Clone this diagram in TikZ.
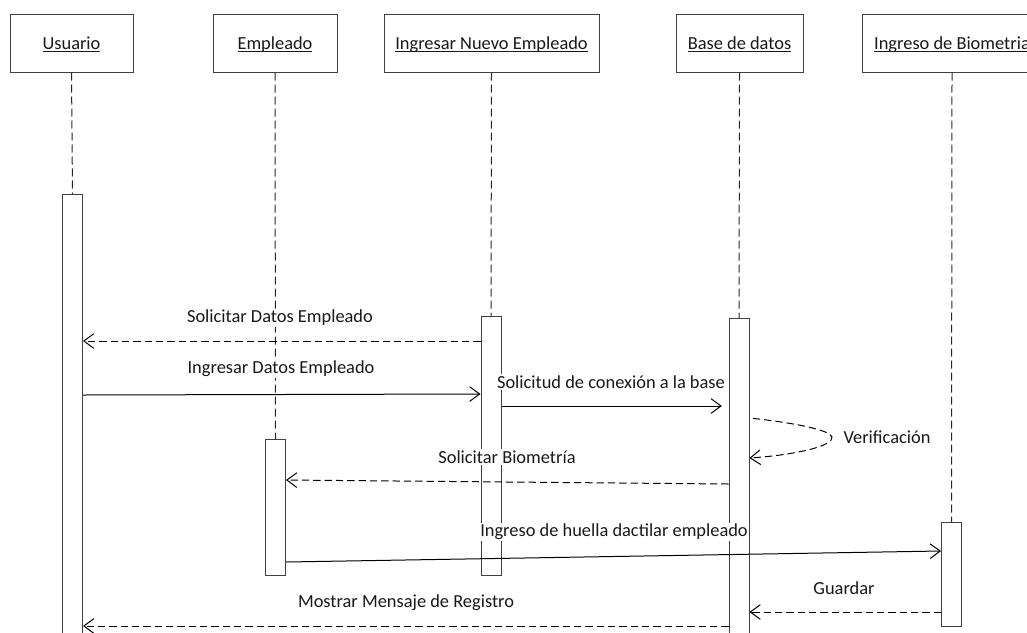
\documentclass[tikz,border=0pt]{standalone}
\usepackage{fontspec}
\setmainfont{Carlito}
\usetikzlibrary{arrows.meta}
% underline set just below the baseline, crossing the descenders
\newcommand{\headname}[1]{\underline{\smash{#1}}}
\begin{document}
\begin{tikzpicture}[x=0.75pt,y=-0.75pt,
  every node/.style={font=\fontsize{13.8pt}{16pt}\selectfont, text=black!90},
  head/.style={draw=black!75, line width=0.75pt, fill=white, minimum height=43.5pt, inner sep=0pt,
    text height=9pt, text depth=0pt},
  act/.style={draw=black!75, line width=0.75pt, fill=white, minimum width=15pt, inner sep=0pt, anchor=north},
  life/.style={draw=black!85, line width=0.75pt, dash pattern=on 6pt off 3pt},
  call/.style={draw=black, line width=0.75pt, -{Straight Barb[length=7.5pt,width=11pt]}},
  ret/.style={call, dash pattern=on 5.5pt off 3pt},
  lbl/.style={fill=white, inner sep=1pt}]

\useasboundingbox (0,0) rectangle (1027,632);
\clip (0,0) rectangle (1027,632);

% object heads
\node[head, minimum width=92.25pt]  (u)   at (71.5,43)  {\headname{Usuario}};
\node[head, minimum width=93pt]     (e)   at (275,43)   {\headname{Empleado}};
\node[head, minimum width=161.25pt] (ine) at (491.5,43) {\headname{Ingresar Nuevo Empleado}};
\node[head, minimum width=95.25pt]  (bd)  at (739.5,43) {\headname{Base de datos}};
\node[head, minimum width=135pt]    (bio) at (952,43)   {\headname{Ingreso de Biometria}};

% activation bars
\node[act, minimum height=334.5pt] (au)   at (72.5,194) {};
\node[act, minimum height=102pt]   (ae)   at (275.5,439) {};
\node[act, minimum height=194.25pt](ai)   at (491,316) {};
\node[act, minimum height=241.5pt] (ab)   at (739,318) {};
\node[act, minimum height=78pt]    (abio) at (951.5,522) {};

% lifelines
\draw[life] (u.south)   -- (au.north);
\draw[life] (e.south)   -- (ae.north);
\draw[life] (ine.south) -- (ai.north);
\draw[life] (bd.south)  -- (ab.north);
\draw[life] (bio.south) -- (abio.north);

% messages
\draw[ret]  (ai.west |- 0,341) -- (au.east |- 0,341);
\draw[call] (au.east |- 0,395) -- (ai.west |- 0,394);
\draw[call, shorten >=5pt] (ai.east |- 0,406) -- (ab.west |- 0,406);
\coordinate (vt) at (832,437);
\draw[ret, shorten <=2.5pt] (ab.east |- 0,418) .. controls (795,423) and (830,430) .. (vt)
  .. controls (834,446) and (795,455) .. (ab.east |- 0,458);
\draw[ret]  (ab.west |- 0,484) -- (ae.east |- 0,480);
\draw[call] (ae.east |- 0,562) -- (abio.west |- 0,551);
\draw[ret]  (abio.west |- 0,612) -- (ab.east |- 0,612);
\draw[ret]  (ab.west |- 0,626) -- (au.east |- 0,626);

% message labels
\node[lbl] (l1) at (280,318) {Solicitar Datos Empleado};
\node[lbl] (l2) at (281,369) {Ingresar Datos Empleado};
\node[lbl] (l3) at (611,382) {Solicitud de conexión a la base};
\node[lbl] (l4) at (887,437) {Verificación};
\node[lbl] (l5) at (507,457) {Solicitar Biometría};
\node[lbl] (l6) at (614,532) {Ingreso de huella dactilar empleado};
\node[lbl] (l7) at (844,588) {Guardar};
\node[lbl] (l8) at (406,603) {Mostrar Mensaje de Registro};
\end{tikzpicture}
\end{document}
